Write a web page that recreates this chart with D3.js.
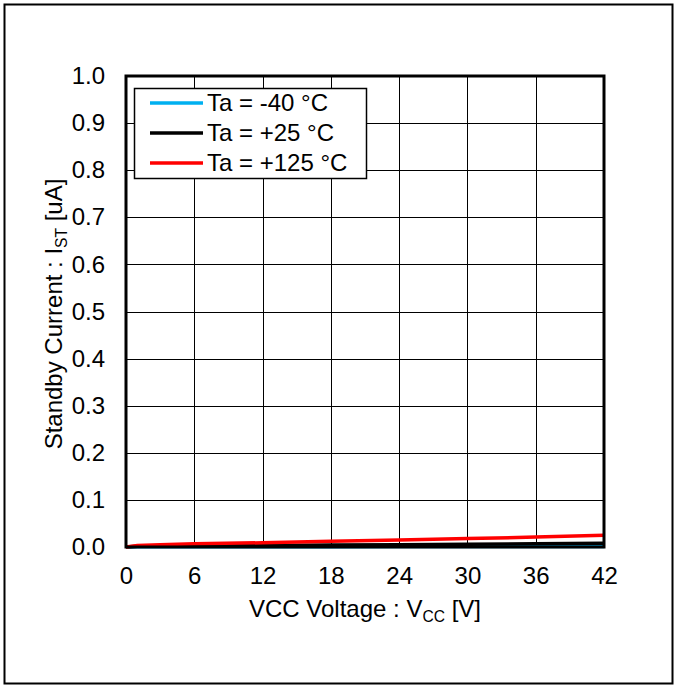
<!DOCTYPE html>
<html><head><meta charset="utf-8">
<script src="https://cdn.jsdelivr.net/npm/d3@7"></script>
<style>body{margin:0;background:#fff}svg{display:block}text{font-family:"Liberation Sans",Arial,sans-serif;fill:#000}</style>
</head><body>
<svg id="c" width="677" height="686"></svg>
<script>
const voltage = [0, 1, 3, 6, 12, 18, 24, 30, 36, 42];
const iMinus40 = [0, 0.0003, 0.0004, 0.0005, 0.0006, 0.0007, 0.0008, 0.0009, 0.001, 0.001];
const iPlus25 = [0, 0.0015, 0.002, 0.0025, 0.003, 0.004, 0.005, 0.006, 0.007, 0.008];
const iPlus125 = [0, 0.003, 0.005, 0.007, 0.009, 0.012, 0.015, 0.018, 0.021, 0.025];
const seriesNames = ["Ta = -40 °C", "Ta = +25 °C", "Ta = +125 °C"];
const seriesColors = ["#00B0F0", "#000000", "#FF0000"];
const xTicks = [0, 6, 12, 18, 24, 30, 36, 42];
const yTicks = [0, 0.1, 0.2, 0.3, 0.4, 0.5, 0.6, 0.7, 0.8, 0.9, 1.0];

const svg = d3.select("#c");
const L = 126, R = 604, T = 76, B = 547;
const x = d3.scaleLinear().domain([0, 42]).range([L, R]);
const y = d3.scaleLinear().domain([0, 1]).range([B, T]);
const FS = 24;

svg.append("rect").attr("x", 4.5).attr("y", 4.5).attr("width", 668).attr("height", 679)
  .attr("fill", "#fff").attr("stroke", "#000").attr("stroke-width", 2);

// grid
const g = svg.append("g");
g.selectAll(".vx").data(xTicks).join("line")
  .attr("x1", d => Math.round(x(d)) + 0.5).attr("x2", d => Math.round(x(d)) + 0.5)
  .attr("y1", T).attr("y2", B).attr("stroke", "#000").attr("stroke-width", 1);
g.selectAll(".hy").data(yTicks).join("line")
  .attr("y1", d => Math.round(y(d)) + 0.5).attr("y2", d => Math.round(y(d)) + 0.5)
  .attr("x1", L).attr("x2", R).attr("stroke", "#000").attr("stroke-width", 1);

// axes labels via d3 axes
const xa = svg.append("g").attr("transform", `translate(0,${B})`)
  .call(d3.axisBottom(x).tickValues(xTicks).tickSize(0).tickPadding(20).tickFormat(d3.format("d")));
const ya = svg.append("g").attr("transform", `translate(${L},0)`)
  .call(d3.axisLeft(y).tickValues(yTicks).tickSize(0).tickPadding(21).tickFormat(d3.format(".1f")));
[xa, ya].forEach(a => {
  a.select(".domain").remove();
  a.selectAll("text").attr("font-size", FS).attr("font-family", '"Liberation Sans",Arial,sans-serif').attr("fill", "#000");
});

// series
const series = [iMinus40, iPlus25, iPlus125];
const line = d3.line().x((d, i) => x(voltage[i])).y(d => y(d));
series.forEach((s, k) => {
  svg.append("path").datum(s).attr("d", line).attr("fill", "none")
    .attr("stroke", seriesColors[k]).attr("stroke-width", 3.5);
});

// frame
svg.append("rect").attr("x", L).attr("y", T).attr("width", R - L).attr("height", B - T)
  .attr("fill", "none").attr("stroke", "#000").attr("stroke-width", 3);

// legend
const lg = svg.append("g");
lg.append("rect").attr("x", 134.5).attr("y", 88.5).attr("width", 232).attr("height", 90)
  .attr("fill", "#fff").attr("stroke", "#000").attr("stroke-width", 1.5);
seriesNames.forEach((n, k) => {
  const yy = 103 + k * 30;
  lg.append("line").attr("x1", 150).attr("x2", 203).attr("y1", yy).attr("y2", yy)
    .attr("stroke", seriesColors[k]).attr("stroke-width", 3.5);
  lg.append("text").attr("x", 207).attr("y", yy).attr("dy", "0.33em").attr("font-size", FS).text(n);
});

// axis titles
const xt = svg.append("text").attr("x", 365).attr("y", 617).attr("text-anchor", "middle").attr("font-size", FS);
xt.append("tspan").text("VCC Voltage : V");
xt.append("tspan").attr("font-size", FS * 0.65).attr("dy", 5).text("CC");
xt.append("tspan").attr("dy", -5).text(" [V]");

const yt = svg.append("text").attr("transform", "translate(62,314) rotate(-90)").attr("text-anchor", "middle").attr("font-size", FS);
yt.append("tspan").text("Standby Current : I");
yt.append("tspan").attr("font-size", FS * 0.65).attr("dy", 5).text("ST");
yt.append("tspan").attr("dy", -5).text(" [uA]");
</script>
</body></html>
